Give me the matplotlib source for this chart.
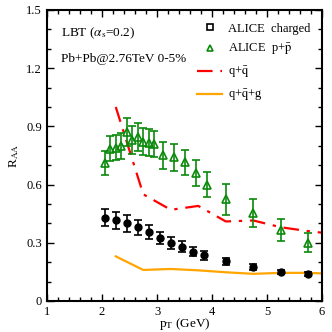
import matplotlib
import matplotlib.pyplot as plt
from matplotlib.lines import Line2D
from matplotlib.ticker import MultipleLocator

matplotlib.use("Agg")

plt.rcParams["font.family"] = "Liberation Serif"
plt.rcParams["mathtext.fontset"] = "stix"

# ALICE charged hadrons
ch_pt = [2.05, 2.25, 2.45, 2.65, 2.85, 3.05, 3.25, 3.45, 3.65, 3.85, 4.25, 4.75, 5.25, 5.75]
ch_raa = [0.43, 0.415, 0.40, 0.38, 0.355, 0.325, 0.30, 0.28, 0.255, 0.235, 0.205, 0.175, 0.15, 0.14]
ch_err = [0.045, 0.045, 0.042, 0.04, 0.035, 0.033, 0.03, 0.028, 0.025, 0.022, 0.018, 0.015, 0.012, 0.012]

# ALICE p+pbar
pp_pt = [2.05, 2.15, 2.25, 2.35, 2.45, 2.55, 2.65, 2.75, 2.85, 2.95,
         3.1, 3.3, 3.5, 3.7, 3.9, 4.25, 4.75, 5.25, 5.75]
pp_raa = [0.71, 0.785, 0.79, 0.80, 0.872, 0.83, 0.845, 0.82, 0.815, 0.81,
          0.75, 0.74, 0.715, 0.66, 0.60, 0.525, 0.455, 0.365, 0.30]
pp_err = [0.063, 0.065, 0.065, 0.068, 0.073, 0.07, 0.07, 0.07, 0.07, 0.068,
          0.068, 0.068, 0.065, 0.068, 0.065, 0.08, 0.072, 0.058, 0.05]

# LBT curves
qq_pt = [2.25, 2.75, 3.25, 3.75, 4.25, 4.75, 5.25, 5.75, 6.0]
qq_raa = [1.0, 0.55, 0.47, 0.49, 0.41, 0.415, 0.38, 0.36, 0.352]
qqg_pt = [2.25, 2.75, 3.25, 3.75, 4.25, 4.75, 5.25, 5.75, 6.0]
qqg_raa = [0.23, 0.16, 0.165, 0.158, 0.148, 0.14, 0.145, 0.145, 0.142]

green = "#0a8a0a"
red = "#ff0000"
orange = "#ffa500"
dashdot = (0, (7, 3.5, 1.5, 3.5))

fig = plt.figure(figsize=(3.32, 3.32), dpi=100)
ax = fig.add_axes([0.1416, 0.0934, 0.8284, 0.8766])

ax.plot(qq_pt, qq_raa, color=red, linestyle=dashdot, linewidth=1.6)
ax.plot(qqg_pt, qqg_raa, color=orange, linewidth=1.6)

ax.errorbar(pp_pt, pp_raa, yerr=pp_err, fmt="^", color=green, mfc="none", mec=green,
            ms=6, mew=1.2, capsize=3, elinewidth=1.2, capthick=1.2)
ax.errorbar(ch_pt, ch_raa, yerr=ch_err, fmt="o", color="black", mfc="black",
            ms=5, capsize=3, elinewidth=1.2, capthick=1.2)

handles = [
    Line2D([], [], marker="s", color="black", mfc="none", ms=4, mew=1.2, linestyle="none"),
    Line2D([], [], marker="^", color=green, mfc="none", ms=5, mew=1.2, linestyle="none"),
    Line2D([], [], color=red, linestyle=dashdot, linewidth=1.6),
    Line2D([], [], color=orange, linewidth=1.6),
]
labels = ["ALICE  charged", r"ALICE  p+$\bar{\rm p}$", r"q+$\bar{\rm q}$", r"q+$\bar{\rm q}$+g"]
ax.legend(handles, labels, loc="upper right", frameon=False, fontsize=9,
          handlelength=2.0, handletextpad=0.5, labelspacing=0.6,
          bbox_to_anchor=(1.0, 0.995))

ax.text(0.05, 0.91, r"LBT ($\alpha_{\rm s}$=0.2)", transform=ax.transAxes, fontsize=9.5)
ax.text(0.05, 0.82, "Pb+Pb@2.76TeV 0-5%", transform=ax.transAxes, fontsize=9.5)

ax.set_xlim(1, 6)
ax.set_ylim(0, 1.5)
ax.xaxis.set_major_locator(MultipleLocator(1))
ax.xaxis.set_minor_locator(MultipleLocator(0.2))
ax.yaxis.set_minor_locator(MultipleLocator(0.1))
ax.set_yticks([0, 0.3, 0.6, 0.9, 1.2, 1.5])
ax.set_yticklabels(["0", "0.3", "0.6", "0.9", "1.2", "1.5"])
ax.tick_params(which="both", direction="in", top=True, right=True, labelsize=9)
ax.tick_params(which="major", length=5, width=1)
ax.tick_params(which="minor", length=3, width=1)
for s in ax.spines.values():
    s.set_linewidth(1.5)

ax.set_xlabel(r"p$_{\rm T}$ (GeV)", fontsize=9.5, labelpad=-1)
ax.set_ylabel(r"R$_{\rm AA}$", fontsize=9.5, labelpad=4)

fig.savefig("out.png", dpi=100)
